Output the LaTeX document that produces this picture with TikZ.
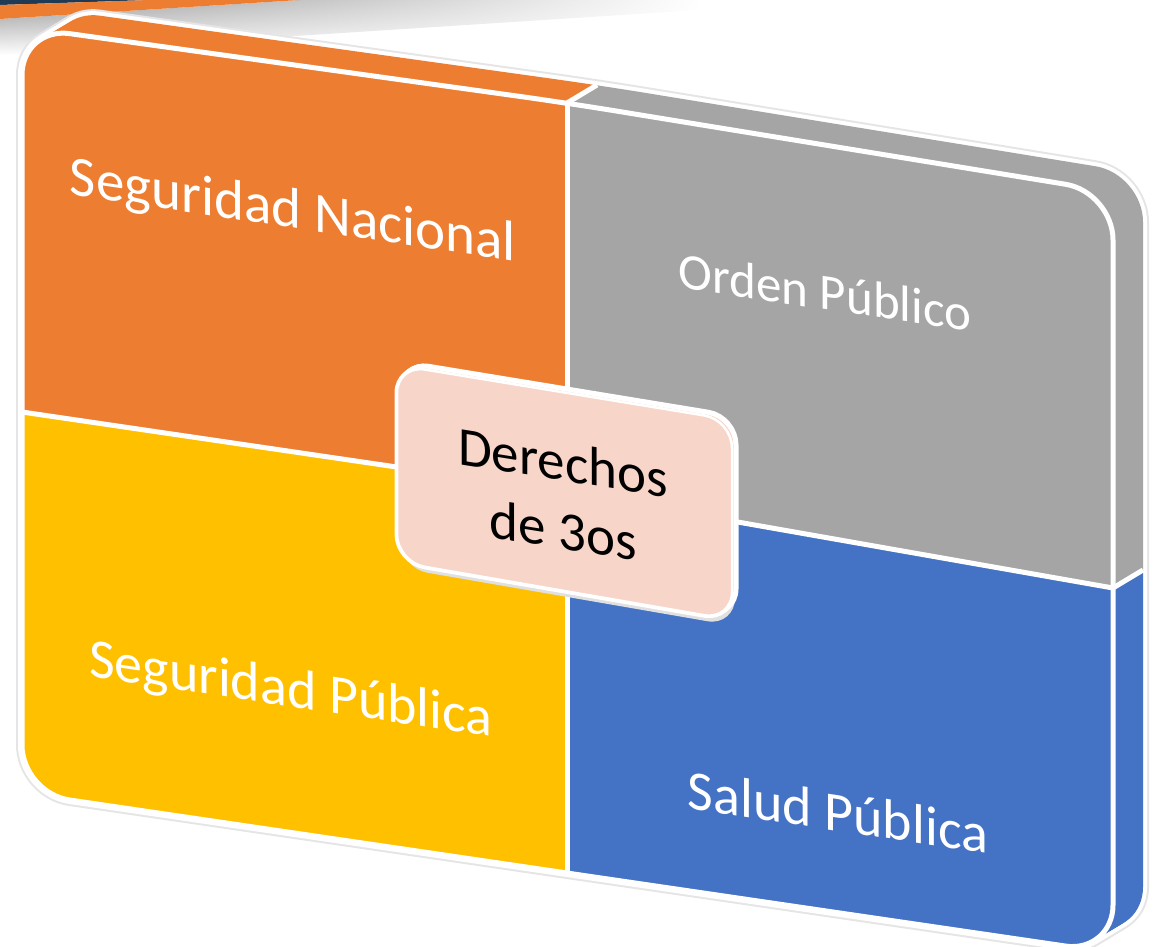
\documentclass[tikz,border=0pt]{standalone}
\usepackage{fontspec}
\setmainfont{Carlito}
\usetikzlibrary{fadings}

\definecolor{naranja}{HTML}{ED7D31}
\definecolor{gris}{HTML}{A5A5A5}
\definecolor{amarillo}{HTML}{FFC000}
\definecolor{azul}{HTML}{4472C4}
\definecolor{rosa}{RGB}{247,213,200}
\definecolor{marino}{HTML}{1F3A55}

% front faces of the matrix and of the centre box
\newcommand{\caraframe}{(22,400) -- (22,27) -- (567,103) -- (1113,192) -- (1113,953) -- (567,873) -- (22,793) -- cycle}
\newcommand{\cajaframe}{(397,470) -- (397,365) -- (732,420) -- (732,620) -- (397,562) -- cycle}

% the four quadrants, cut by a clip
\newcommand{\cuadrantes}{%
  \fill[naranja] (-100,-100) -- (567,-100) -- (567,492) -- (-100,394) -- cycle;
  \fill[gris] (567,-100) -- (1300,-100) -- (1300,621) -- (567,492) -- cycle;
  \fill[amarillo] (-100,394) -- (567,492) -- (567,1100) -- (-100,1100) -- cycle;
  \fill[azul] (567,492) -- (1300,621) -- (1300,1100) -- (567,1100) -- cycle;
}

\begin{document}
\begin{tikzpicture}[
  x=1pt, y=-1pt,
  cara/.style={rounded corners=48pt},
  caja/.style={rounded corners=28pt},
  divisor/.style={white, line width=5pt},
  quadtext/.style={
    text=white, inner sep=0pt, yslant=-0.15,
    font=\fontsize{#1}{64}\selectfont
  },
  quadtext/.default=56,
  cajatext/.style={
    text=black, inner sep=0pt, yslant=-0.16, align=center,
    font=\fontsize{55}{68}\selectfont
  }
]
\useasboundingbox (0,0) rectangle (1153,947);

% banner cut by the top edge
\shade[top color=black!40, bottom color=white, path fading=east]
  (0,19) -- (300,0) -- (700,0) -- (700,10) -- (0,55) -- cycle;
\fill[marino] (0,0) -- (150,0) -- (0,5) -- cycle;
\fill[naranja] (0,5) -- (150,0) -- (300,0) -- (0,19) -- cycle;

% slab: outline, then body swept back
\foreach \n in {0,...,10}
  \draw[cara, black!10, line width=12pt, shift={(3*\n,-1.8*\n)}] \caraframe;
\foreach \n in {0,...,10}
  \draw[cara, white, line width=8pt, shift={(3*\n,-1.8*\n)}] \caraframe;
\foreach \n in {10,...,0}{
  \begin{scope}[shift={(3*\n,-1.8*\n)}]
    \clip[cara] \caraframe;
    \cuadrantes
  \end{scope}
}

% white lines of the front face
\draw[cara, divisor] \caraframe;
\draw[divisor] (567,103) -- (567,873);
\draw[divisor] (22,412) -- (567,492) -- (1113,588);
\draw[divisor] (567,103) -- ++(30,-18);
\draw[divisor] (1113,588) -- ++(30,-18);

% centre box
\fill[caja, black!12, shift={(3,6)}] \cajaframe;
\foreach \n in {0,...,4}
  \draw[caja, white, line width=5pt, fill=rosa, shift={(\n,-0.8*\n)}] \cajaframe;
\draw[caja, white, line width=2.5pt, fill=rosa] \cajaframe;

% labels
\node[quadtext=57] (nacional) at (293,213) {Seguridad Nacional};
\node[quadtext=51] (orden) at (825,292) {Orden Público};
\node[quadtext] (spublica) at (291,692) {Seguridad Pública};
\node[quadtext] (salud) at (838,812) {Salud Pública};
\node[cajatext] (derechos) at (563,496) {Derechos\\de 3os};

\end{tikzpicture}
\end{document}
